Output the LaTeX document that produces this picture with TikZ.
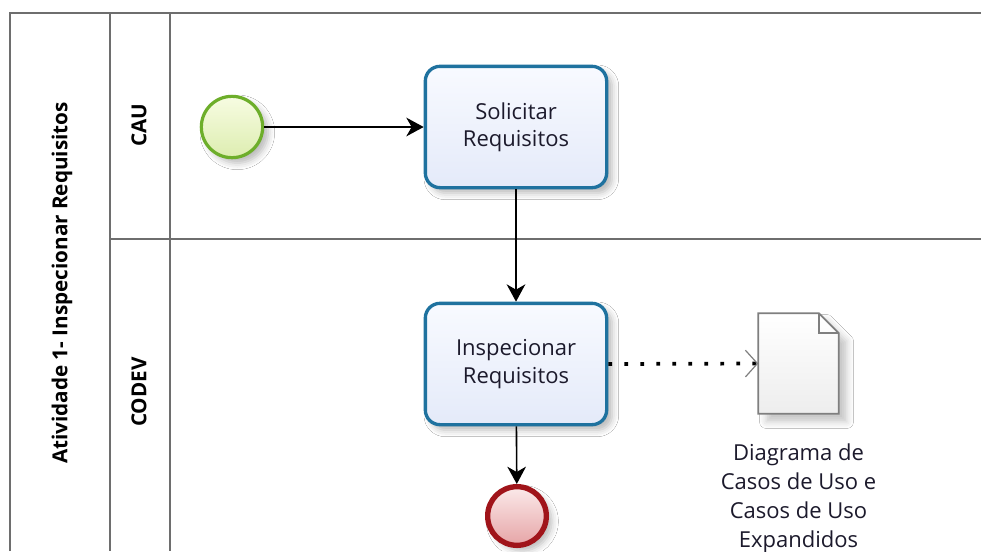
\documentclass[tikz,border=0pt]{standalone}
\usepackage{fontspec}
\setmainfont{Open Sans}
\usetikzlibrary{arrows.meta,shadows.blur,calc}

\definecolor{laneline}{HTML}{6E6E6E}
\definecolor{taskedge}{HTML}{1F729F}
\definecolor{tasktop}{HTML}{F8FAFF}
\definecolor{taskbot}{HTML}{E4EAF9}
\definecolor{startedge}{HTML}{6DAE2A}
\definecolor{starttop}{HTML}{F7FCE2}
\definecolor{startbot}{HTML}{DDEDB0}
\definecolor{endedge}{HTML}{A0141A}
\definecolor{endtop}{HTML}{FBEAEA}
\definecolor{endbot}{HTML}{E6A4A6}
\definecolor{docedge}{HTML}{7F7F7F}
\definecolor{inktext}{HTML}{1C1A2C}

\tikzset{
  lane/.style={draw=laneline, line width=1.5pt},
  softshadow/.style={blur shadow={shadow xshift=4pt, shadow yshift=-4pt,
      shadow blur radius=5pt, shadow opacity=28}},
  task/.style={draw=taskedge, line width=2.5pt, rounded corners=11pt,
      top color=tasktop, bottom color=taskbot, softshadow,
      minimum width=136pt, minimum height=91pt, align=center,
      text=inktext, font=\fontsize{16.5}{20.5}\selectfont},
  startev/.style={circle, draw=startedge, line width=2.4pt,
      top color=starttop, bottom color=startbot, softshadow,
      minimum size=46pt, inner sep=0pt},
  endev/.style={circle, draw=endedge, line width=4pt,
      top color=endtop, bottom color=endbot, softshadow,
      minimum size=44pt, inner sep=0pt},
  flow/.style={draw=black, line width=1.2pt,
      -{Stealth[length=13pt, width=14pt, inset=4pt]}},
  assoc/.style={draw=black, line width=2.8pt, dash pattern=on 2.8pt off 9.2pt,
      -{Straight Barb[length=9pt, width=20pt, line width=0.9pt, color=docedge]}},
  doclabel/.style={align=center, text=inktext,
      font=\fontsize{16.5}{21.7}\selectfont},
  lanelabel/.style={rotate=90, text=black, font=\bfseries\fontsize{15.5}{18}\selectfont},
}

\begin{document}
\begin{tikzpicture}[x=0.75pt, y=-0.75pt]
  \useasboundingbox (0,0) rectangle (981,551);
  \fill[white] (0,0) rectangle (981,551);

  % pool and lane frame
  \draw[lane] (10,551) -- (10,13) -- (981,13);
  \draw[lane] (110,13) -- (110,551);
  \draw[lane] (170,13) -- (170,551);
  \draw[lane] (110,239) -- (981,239);

  % pool and lane titles
  \node[lanelabel] (pool) at (62,283) {Atividade 1- Inspecionar Requisitos};
  \node[lanelabel] (cau) at (139,125) {CAU};
  \node[lanelabel] (codev) at (139,392) {CODEV};

  % events and tasks
  \node[startev] (start) at (232,127) {};
  \node[task] (solicitar) at (516,127) {Solicitar\\Requisitos};
  \node[task] (inspecionar) at (516,364) {Inspecionar\\Requisitos};
  \node[endev] (finish) at (517,516) {};

  % data object
  \node[minimum width=60pt, minimum height=75pt, inner sep=0pt] (doc) at (798.5,363.5) {};
  \draw[docedge, line width=1.3pt, top color=white, bottom color=black!7,
        blur shadow={shadow xshift=6pt, shadow yshift=-6pt,
        shadow blur radius=5pt, shadow opacity=22}]
    (doc.south west) -- (doc.north west) -- ($(doc.north east)+(-20,0)$)
    -- ($(doc.north east)+(0,20)$) -- (doc.south east) -- cycle;
  \draw[docedge, line width=1.3pt]
    ($(doc.north east)+(-20,0)$) -- ($(doc.north east)+(-20,20)$) -- ($(doc.north east)+(0,20)$);
  \node[doclabel, anchor=north] (doctext) at ($(doc.south)+(0,25)$)
    {Diagrama de\\Casos de Uso e\\Casos de Uso\\Expandidos};

  % connectors
  \draw[flow] (start) -- (solicitar);
  \draw[flow] (solicitar) -- (inspecionar);
  \draw[flow] (inspecionar) -- (finish);
  \draw[assoc] (inspecionar.east) -- (doc.west);
\end{tikzpicture}
\end{document}
